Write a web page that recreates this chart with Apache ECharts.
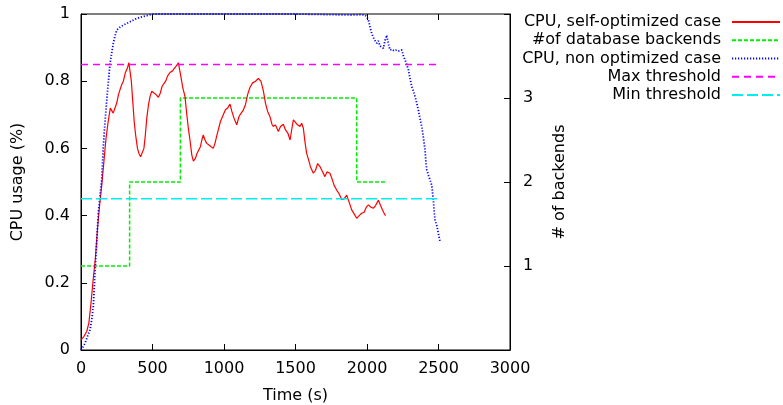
<!DOCTYPE html>
<html><head><meta charset="utf-8">
<script src="https://cdn.jsdelivr.net/npm/echarts@6/dist/echarts.min.js"></script>
<style>html,body{margin:0;padding:0;background:#fff}#c{width:783px;height:405px}</style>
</head><body><div id="c"></div>
<script>
const xTicks = [0, 500, 1000, 1500, 2000, 2500, 3000];
const seriesNames = ['CPU, self-optimized case', '#of database backends', 'CPU, non optimized case', 'Max threshold', 'Min threshold'];
const cpuSelf = [
[0,0.03],[20,0.04],[40,0.055],[55,0.08],[70,0.14],[85,0.21],[100,0.27],[115,0.36],[130,0.43],[145,0.49],
[160,0.56],[175,0.63],[190,0.68],[205,0.72],[215,0.725],[225,0.705],[238,0.70],[250,0.735],[262,0.76],[273,0.775],
[285,0.79],[296,0.80],[310,0.825],[325,0.84],[335,0.855],[342,0.85],[352,0.80],[362,0.74],[372,0.68],[382,0.64],
[395,0.60],[405,0.585],[417,0.575],[428,0.58],[440,0.60],[450,0.64],[460,0.69],[472,0.73],[483,0.755],[495,0.77],
[510,0.765],[525,0.76],[541,0.752],[555,0.765],[567,0.785],[580,0.79],[592,0.80],[605,0.815],[622,0.826],[638,0.83],
[650,0.835],[665,0.845],[681,0.855],[690,0.85],[700,0.81],[712,0.78],[727,0.755],[740,0.70],[752,0.655],[762,0.625],
[775,0.58],[786,0.562],[800,0.57],[811,0.585],[821,0.585],[835,0.605],[845,0.625],[855,0.64],[867,0.625],[879,0.615],
[895,0.61],[910,0.605],[925,0.60],[937,0.615],[948,0.635],[960,0.655],[975,0.68],[995,0.70],[1010,0.715],[1025,0.72],
[1042,0.732],[1055,0.71],[1070,0.69],[1089,0.67],[1105,0.695],[1120,0.705],[1135,0.714],[1150,0.73],[1165,0.76],[1182,0.782],
[1200,0.795],[1220,0.80],[1240,0.808],[1258,0.80],[1275,0.772],[1290,0.735],[1305,0.71],[1322,0.694],[1335,0.672],[1345,0.665],
[1360,0.67],[1380,0.65],[1395,0.665],[1415,0.672],[1430,0.655],[1447,0.645],[1462,0.625],[1475,0.66],[1485,0.685],[1497,0.68],
[1510,0.672],[1531,0.665],[1543,0.675],[1555,0.66],[1566,0.62],[1578,0.585],[1592,0.565],[1605,0.545],[1625,0.526],[1640,0.535],
[1655,0.555],[1671,0.546],[1690,0.53],[1706,0.516],[1720,0.53],[1741,0.526],[1755,0.51],[1770,0.49],[1788,0.476],[1805,0.465],
[1823,0.448],[1840,0.45],[1858,0.461],[1875,0.44],[1893,0.417],[1910,0.405],[1928,0.392],[1945,0.40],[1963,0.407],[1980,0.41],
[1995,0.425],[2010,0.432],[2028,0.425],[2045,0.422],[2060,0.43],[2080,0.446],[2095,0.43],[2110,0.415],[2126,0.402],[2130,0.40]
];
const backends = [[0,1],[340,1],[340,2],[695,2],[695,3],[1928,3],[1928,2],[2128,2]];
const cpuNonOpt = [
[0,0.0],[15,0.01],[28,0.02],[45,0.04],[63,0.06],[75,0.09],[86,0.13],[92,0.18],[98,0.23],[110,0.32],
[121,0.407],[133,0.46],[145,0.506],[156,0.605],[168,0.68],[180,0.744],[192,0.80],[203,0.853],[215,0.885],[226,0.913],
[238,0.935],[250,0.952],[270,0.96],[296,0.967],[320,0.972],[343,0.977],[380,0.985],[413,0.99],[460,0.995],[506,1.0],
[1000,1.0],[1500,1.0],[1893,0.997],[1960,0.998],[1986,0.997],[2000,0.99],[2010,0.982],[2022,0.96],[2033,0.942],[2050,0.925],
[2068,0.913],[2080,0.92],[2090,0.905],[2100,0.90],[2115,0.898],[2125,0.92],[2138,0.937],[2150,0.91],[2161,0.893],[2175,0.895],
[2190,0.89],[2208,0.893],[2225,0.89],[2243,0.893],[2255,0.875],[2266,0.863],[2278,0.85],[2290,0.833],[2300,0.81],[2313,0.784],
[2325,0.77],[2336,0.754],[2348,0.735],[2359,0.714],[2370,0.69],[2383,0.665],[2395,0.63],[2406,0.595],[2412,0.56],[2418,0.536],
[2430,0.52],[2441,0.506],[2453,0.49],[2464,0.446],[2470,0.41],[2476,0.387],[2488,0.37],[2499,0.347],[2505,0.335],[2511,0.322]
];
const maxThreshold = [[0,0.85],[2510,0.85]];
const minThreshold = [[0,0.45],[2510,0.45]];
const rightTickLabels = [1, 2, 3];

const FONT = 'DejaVu Sans';
const txt = {color:'#000', fontFamily:FONT, fontSize:16};
const chart = echarts.init(document.getElementById('c'), null, {renderer:'canvas'});
function lineSeries(name, data, color, type, width, yIdx){
  return {name, type:'line', data, yAxisIndex:yIdx||0, showSymbol:false, symbol:'none', animation:false,
    lineStyle:{color, width, type}, itemStyle:{color}, z:yIdx?2:3};
}
chart.setOption({
  animation:false,
  textStyle:{fontFamily:FONT},
  grid:{left:81, right:273, top:14, bottom:55, outerBoundsMode:'none', containLabel:false,
        show:true, borderColor:'#000', borderWidth:1, backgroundColor:'transparent'},
  legend:{
    orient:'vertical', right:2, top:14, padding:0, align:'right', itemWidth:48, itemHeight:10, itemGap:2.25,
    itemStyle:{opacity:0},
    textStyle:Object.assign({}, txt, {lineHeight:16, padding:[0,6,0,0]}),
    data:seriesNames, selectedMode:false
  },
  xAxis:[
    {type:'value', min:0, max:3000, interval:500, position:'bottom',
     name:'Time (s)', nameLocation:'middle', nameGap:38, nameTextStyle:txt,
     axisLine:{show:true, onZero:false, lineStyle:{color:'#000'}}, axisTick:{show:true, inside:true, length:6, lineStyle:{color:'#000'}},
     axisLabel:Object.assign({margin:11, formatter:v=>String(v)}, txt), splitLine:{show:false}},
    {type:'value', min:0, max:3000, interval:500, position:'top',
     axisLine:{show:false, onZero:false}, axisTick:{show:true, inside:true, length:6, lineStyle:{color:'#000'}},
     axisLabel:{show:false}, splitLine:{show:false}}
  ],
  yAxis:[
    {type:'value', min:0, max:1, interval:0.2, position:'left',
     name:'CPU usage (%)', nameLocation:'middle', nameGap:55, nameTextStyle:txt,
     axisLine:{show:true, onZero:false, lineStyle:{color:'#000'}}, axisTick:{show:true, inside:true, length:6, lineStyle:{color:'#000'}},
     axisLabel:Object.assign({margin:11}, txt), splitLine:{show:false}},
    {type:'value', min:0, max:4, interval:1, position:'right',
     name:'# of backends', nameLocation:'middle', nameGap:42, nameTextStyle:txt,
     axisLine:{show:true, onZero:false, lineStyle:{color:'#000'}},
     axisTick:{show:true, inside:true, length:6, lineStyle:{color:'#000'}},
     axisLabel:Object.assign({margin:13, formatter:v=>rightTickLabels.includes(v)?String(v):''}, txt), splitLine:{show:false}}
  ],
  series:[
    lineSeries(seriesNames[0], cpuSelf, '#ff0000', 'solid', 1.2),
    lineSeries(seriesNames[1], backends, '#00ee00', [4,2], 1.5, 1),
    lineSeries(seriesNames[2], cpuNonOpt, '#0000ff', [1.2,1.8], 1.8),
    lineSeries(seriesNames[3], maxThreshold, '#ff00ff', [7,5], 1.5),
    lineSeries(seriesNames[4], minThreshold, '#00eeee', [11,4], 1.5)
  ]
});
</script></body></html>
